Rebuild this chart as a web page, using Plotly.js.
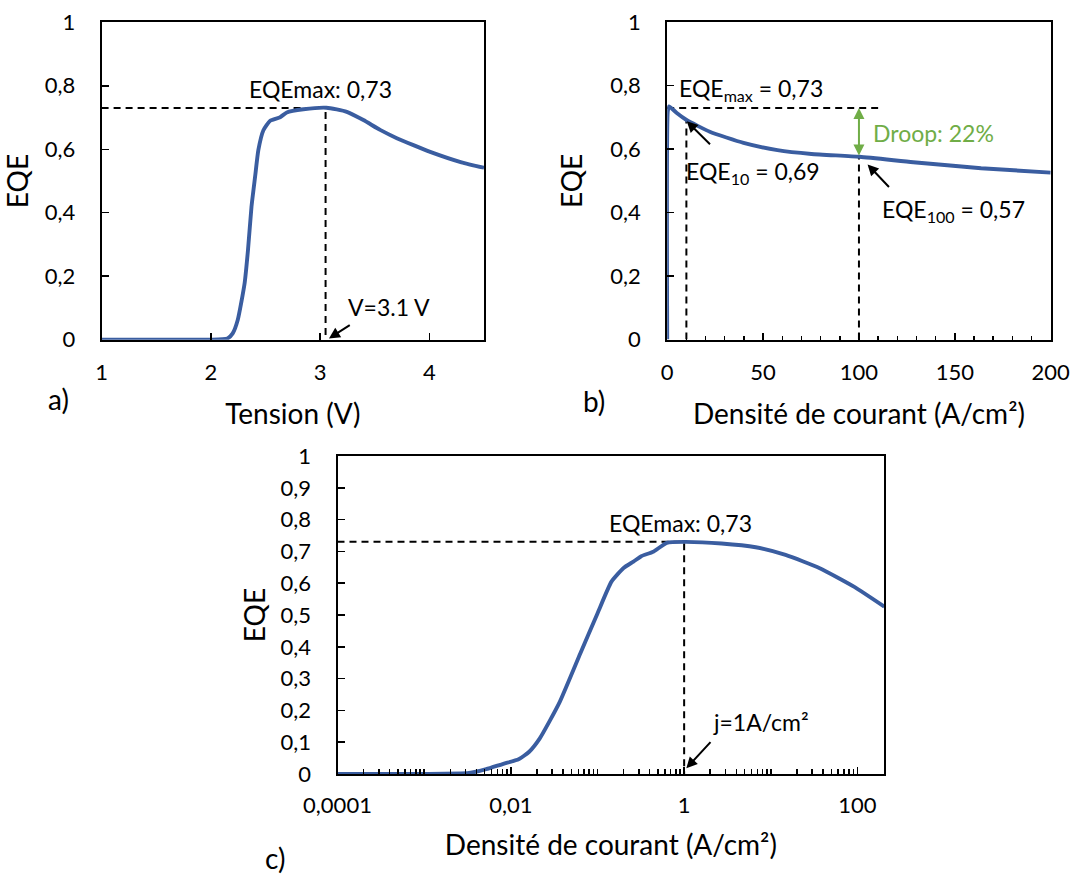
<!DOCTYPE html>
<html>
<head>
<meta charset="utf-8">
<script src="https://cdn.plot.ly/plotly-3.0.1.min.js"></script>
<style>html,body{margin:0;padding:0;background:#fff;}#chart{width:1072px;height:877px;}</style>
</head>
<body>
<div id="chart"></div>
<script>
// ---------- data ----------
// a) EQE vs voltage
const tensionV = [1.0, 1.5, 2.0, 2.152, 2.2, 2.246, 2.309, 2.340, 2.372, 2.405, 2.435, 2.481, 2.543, 2.634, 2.695, 2.847, 3.058, 3.244, 3.396, 3.549, 3.702, 3.854, 4.007, 4.294, 4.5];
const eqeA     = [0, 0, 0, 0.004, 0.02, 0.062, 0.178, 0.283, 0.419, 0.514, 0.598, 0.660, 0.690, 0.701, 0.716, 0.726, 0.731, 0.718, 0.692, 0.661, 0.635, 0.613, 0.592, 0.559, 0.542];
// b) EQE vs current density (linear)
const densityB = [0, 0.3, 1, 5, 10.1, 22.2, 39.8, 57.5, 75.2, 100.3, 128.3, 163.7, 200];
const eqeB     = [0, 0.72, 0.735, 0.714, 0.692, 0.655, 0.620, 0.597, 0.585, 0.576, 0.559, 0.540, 0.526];
// c) EQE vs current density (log)
const densityC = [1e-4, 1e-3, 3.3e-3, 5.2e-3, 8.2e-3, 0.0123, 0.0163, 0.0216, 0.036, 0.0635, 0.1, 0.145, 0.2, 0.26, 0.32, 0.44, 0.63, 1, 2.7, 6.7, 14.8, 36.7, 91, 204];
const eqeC     = [0, 0, 0.003, 0.015, 0.032, 0.046, 0.07, 0.112, 0.222, 0.38, 0.505, 0.605, 0.648, 0.668, 0.685, 0.699, 0.727, 0.730, 0.725, 0.713, 0.689, 0.647, 0.589, 0.526];

// key values
const EQE_MAX = 0.73;
const V_PEAK = 3.05;
const J10 = 10, EQE_10 = 0.69;
const J100 = 100, EQE_100 = 0.575;
const J_PEAK = 1;

// tick labels
const ticksA_x = [1, 2, 3, 4];
const ticksAB_y = [0, 0.2, 0.4, 0.6, 0.8, 1];
const ticksC_x = [1e-4, 1e-2, 1, 100];
const ticksC_xtext = ['0,0001', '0,01', '1', '100'];
const ticksC_y = [0, 0.1, 0.2, 0.3, 0.4, 0.5, 0.6, 0.7, 0.8, 0.9, 1];

// ---------- styles ----------
const FONT = 'Lato, "Open Sans", sans-serif';
const BLUE = '#3A5DA0';
const GREEN = '#70AD47';
const TICKF = {family: FONT, size: 22, color: '#000'};
const TITLEF = {family: FONT, size: 28, color: '#000'};
const ANNF = {family: FONT, size: 23, color: '#000'};
const dashLine = {color: '#000', width: 2, dash: '7px,5px'};

const W = 1072, H = 877;
const px = (a, b) => [a / W, b / W];
const py = (top, bottom) => [1 - bottom / H, 1 - top / H];

const curve = (x, y, xa, ya) => ({x, y, xaxis: xa, yaxis: ya, type: 'scatter', mode: 'lines',
  line: {color: BLUE, width: 3.9, shape: 'spline', smoothing: 0.5}, hoverinfo: 'skip'});
const dashed = (x, y, xa, ya) => ({x, y, xaxis: xa, yaxis: ya, type: 'scatter', mode: 'lines',
  line: dashLine, hoverinfo: 'skip'});

// minor ticks on the log axis: every digit of every decade, plus the unlabelled decades
const logMinor = [];
for (let e = -4; e <= 2; e++) for (let k = 1; k <= 9; k++) {
  const v = k * Math.pow(10, e);
  if (!ticksC_x.includes(v)) logMinor.push(v);
}

const traces = [
  // a
  dashed([tensionV[0], V_PEAK, V_PEAK], [EQE_MAX, EQE_MAX, 0], 'x', 'y'),
  curve(tensionV, eqeA, 'x', 'y'),
  // b
  dashed([0, 110], [EQE_MAX, EQE_MAX], 'x2', 'y2'),
  dashed([J10, J10], [0, EQE_10], 'x2', 'y2'),
  dashed([J100, J100], [0, EQE_100], 'x2', 'y2'),
  curve(densityB, eqeB, 'x2', 'y2'),
  // c
  dashed([densityC[0], J_PEAK, J_PEAK], [EQE_MAX, EQE_MAX, 0], 'x3', 'y3'),
  curve(densityC, eqeC, 'x3', 'y3'),
];

const axisBase = {showline: true, mirror: true, linecolor: '#000', linewidth: 2,
  showgrid: false, zeroline: false, ticks: 'inside', ticklen: 7, tickwidth: 1.5, tickcolor: '#000',
  tickfont: TICKF, fixedrange: true};

const arrow = (x, y, ax, ay, xref, yref, extra) => Object.assign({x, y, ax, ay, xref, yref,
  axref: xref, ayref: yref, text: '', showarrow: true, arrowhead: 2, arrowsize: 1.1,
  arrowwidth: 2, arrowcolor: '#000'}, extra || {});
const label = (x, y, text, xref, yref, extra) => Object.assign({x, y, text, xref, yref,
  showarrow: false, font: ANNF, xanchor: 'center', yanchor: 'middle'}, extra || {});
const L = Math.log10;

const layout = {
  width: W, height: H, margin: {l: 0, r: 0, t: 0, b: 0},
  paper_bgcolor: '#fff', plot_bgcolor: '#fff', showlegend: false,
  separators: ', ', font: {family: FONT, color: '#000'},
  xaxis: Object.assign({}, axisBase, {domain: px(101.6, 484), anchor: 'y', range: [1, 4.5],
    tickmode: 'array', tickvals: ticksA_x, ticklabelstandoff: 12,
    title: {text: 'Tension (V)', font: TITLEF, standoff: 20}}),
  yaxis: Object.assign({}, axisBase, {domain: py(22.3, 339.7), anchor: 'x', range: [0, 1],
    tickmode: 'array', tickvals: ticksAB_y, ticklabelstandoff: 20,
    title: {text: 'EQE', font: TITLEF, standoff: 9}}),
  xaxis2: Object.assign({}, axisBase, {domain: px(667.2, 1050.7), anchor: 'y2', range: [0, 200],
    dtick: 50, tick0: 0, ticklabelstandoff: 12,
    minor: {dtick: 10, ticks: 'inside', ticklen: 4, tickwidth: 1.5, tickcolor: '#000', showgrid: false},
    title: {text: 'Densité de courant (A/cm²)', font: TITLEF, standoff: 20}}),
  yaxis2: Object.assign({}, axisBase, {domain: py(22.3, 339.5), anchor: 'x2', range: [0, 1],
    tickmode: 'array', tickvals: ticksAB_y, ticklabelstandoff: 20,
    title: {text: 'EQE', font: TITLEF, standoff: 19}}),
  xaxis3: Object.assign({}, axisBase, {domain: px(337.5, 884.3), anchor: 'y3', type: 'log',
    range: [L(1e-4), L(densityC[densityC.length - 1])], tickmode: 'array', tickvals: ticksC_x,
    ticktext: ticksC_xtext, ticklabelstandoff: 11,
    minor: {tickmode: 'array', tickvals: logMinor, ticks: 'inside', ticklen: 5, tickwidth: 1.5, tickcolor: '#000', showgrid: false},
    title: {text: 'Densité de courant (A/cm²)', font: TITLEF, standoff: 18}}),
  yaxis3: Object.assign({}, axisBase, {domain: py(456, 774), anchor: 'x3', range: [0, 1],
    tickmode: 'array', tickvals: ticksC_y, ticklabelstandoff: 20,
    title: {text: 'EQE', font: TITLEF, standoff: 7}}),
  annotations: [
    // a
    label(3.0, 0.789, 'EQEmax: 0,73', 'x', 'y'),
    label(3.63, 0.104, 'V=3.1 V', 'x', 'y'),
    arrow(3.081, 0.004, 3.285, 0.049, 'x', 'y'),
    // b
    label(43.9, 0.789, 'EQE<sub>max</sub> = 0,73', 'x2', 'y2'),
    label(44.9, 0.525, 'EQE<sub>10</sub> = 0,69', 'x2', 'y2'),
    arrow(J10 + 0.2, EQE_10 - 0.002, 23.1, 0.611, 'x2', 'y2'),
    label(149.2, 0.408, 'EQE<sub>100</sub> = 0,57', 'x2', 'y2'),
    arrow(104.5, 0.552, 116.4, 0.476, 'x2', 'y2'),
    arrow(J100, EQE_MAX, J100, EQE_100, 'x2', 'y2', {arrowcolor: GREEN, arrowside: 'end+start', arrowhead: 2}),
    label(138.7, 0.652, 'Droop: 22%', 'x2', 'y2', {font: {family: FONT, size: 23, color: GREEN}}),
    // c
    label(L(0.91), 0.79, 'EQEmax: 0,73', 'x3', 'y3'),
    label(L(7.8), 0.165, 'j=1A/cm²', 'x3', 'y3'),
    arrow(L(1.06), 0.018, L(2.09), 0.105, 'x3', 'y3'),
    // panel letters
    label(58.5 / W, 1 - 399 / H, 'a)', 'paper', 'paper', {font: {family: FONT, size: 28, color: '#000'}}),
    label(593.5 / W, 1 - 401 / H, 'b)', 'paper', 'paper', {font: {family: FONT, size: 28, color: '#000'}}),
    label(275 / W, 1 - 858 / H, 'c)', 'paper', 'paper', {font: {family: FONT, size: 28, color: '#000'}}),
  ],
};

Plotly.newPlot('chart', traces, layout, {staticPlot: true, displayModeBar: false});
</script>
</body>
</html>
